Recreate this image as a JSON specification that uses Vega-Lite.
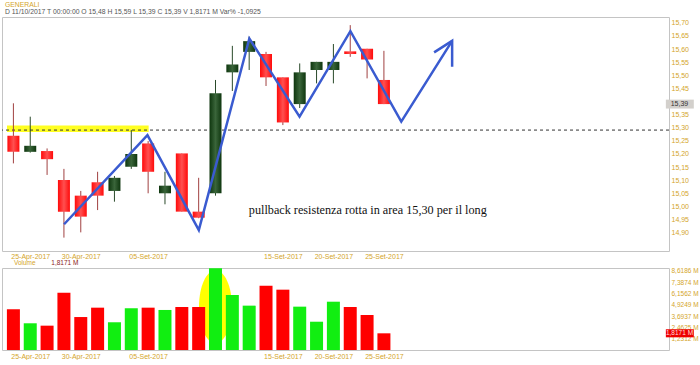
{
  "$schema": "https://vega.github.io/schema/vega-lite/v6.json",
  "background": "white",
  "padding": {"left": 1, "top": 1, "right": 0, "bottom": 0},
  "bounds": "flush",
  "spacing": 17,
  "datasets": {
    "candles": [
      {"i": 1, "o": 15.269, "h": 15.393, "l": 15.164, "c": 15.208, "v": 4.43},
      {"i": 2, "o": 15.208, "h": 15.342, "l": 15.205, "c": 15.231, "v": 2.91},
      {"i": 3, "o": 15.211, "h": 15.221, "l": 15.120, "c": 15.180, "v": 2.65},
      {"i": 4, "o": 15.101, "h": 15.143, "l": 14.881, "c": 14.980, "v": 6.24},
      {"i": 5, "o": 15.041, "h": 15.059, "l": 14.901, "c": 14.961, "v": 3.59},
      {"i": 6, "o": 15.092, "h": 15.132, "l": 14.986, "c": 15.041, "v": 4.61},
      {"i": 7, "o": 15.059, "h": 15.116, "l": 15.018, "c": 15.109, "v": 3.02},
      {"i": 8, "o": 15.151, "h": 15.291, "l": 15.143, "c": 15.200, "v": 4.54},
      {"i": 9, "o": 15.240, "h": 15.249, "l": 15.050, "c": 15.132, "v": 4.61},
      {"i": 10, "o": 15.050, "h": 15.132, "l": 15.008, "c": 15.079, "v": 4.36},
      {"i": 11, "o": 15.202, "h": 15.202, "l": 14.980, "c": 14.980, "v": 4.68},
      {"i": 12, "o": 14.980, "h": 15.109, "l": 14.955, "c": 14.957, "v": 4.68},
      {"i": 13, "o": 15.050, "h": 15.482, "l": 15.041, "c": 15.431, "v": 8.90},
      {"i": 14, "o": 15.511, "h": 15.612, "l": 15.440, "c": 15.541, "v": 5.99},
      {"i": 15, "o": 15.589, "h": 15.647, "l": 15.520, "c": 15.630, "v": 4.83},
      {"i": 16, "o": 15.581, "h": 15.589, "l": 15.459, "c": 15.492, "v": 7.00},
      {"i": 17, "o": 15.492, "h": 15.492, "l": 15.310, "c": 15.320, "v": 6.57},
      {"i": 18, "o": 15.390, "h": 15.545, "l": 15.375, "c": 15.511, "v": 4.72},
      {"i": 19, "o": 15.520, "h": 15.551, "l": 15.469, "c": 15.551, "v": 3.08},
      {"i": 20, "o": 15.520, "h": 15.619, "l": 15.469, "c": 15.551, "v": 5.26},
      {"i": 21, "o": 15.591, "h": 15.691, "l": 15.570, "c": 15.581, "v": 4.68},
      {"i": 22, "o": 15.601, "h": 15.601, "l": 15.488, "c": 15.560, "v": 3.81},
      {"i": 23, "o": 15.482, "h": 15.593, "l": 15.390, "c": 15.390, "v": 1.8171}
    ],
    "band": [{"x1": 0.62, "x2": 9.03, "y1": 15.2835, "y2": 15.308}],
    "resist": [{"p": 15.291}],
    "zig": [
      {"k": 1, "x": 4.01, "y": 14.932},
      {"k": 2, "x": 8.96, "y": 15.272},
      {"k": 3, "x": 12.01, "y": 14.910},
      {"k": 4, "x": 15.01, "y": 15.640},
      {"k": 5, "x": 17.99, "y": 15.342},
      {"k": 6, "x": 21.01, "y": 15.668},
      {"k": 7, "x": 24.03, "y": 15.323},
      {"k": 8, "x": 27.05, "y": 15.631}
    ],
    "arrow": [
      {"k": 1, "x": 25.98, "y": 15.587},
      {"k": 2, "x": 27.05, "y": 15.631},
      {"k": 3, "x": 27.05, "y": 15.532}
    ],
    "note": [{"x": 14.98, "y": 14.986, "t": "pullback resistenza rotta in area 15,30 per il long"}],
    "header": [
      {"x": 0.503, "y": 15.7696, "t": "GENERALI", "role": "name"},
      {"x": 0.503, "y": 15.742, "t": "D 11/10/2017  T 00:00:00  O 15,48  H 15,59  L 15,39  C 15,39  V 1,8171 M  Var% -1,0925", "role": "info"}
    ],
    "lastprice": [{"x1": 39.74, "x2": 41.4, "xm": 40.55, "p": 15.39, "p1": 15.373, "p2": 15.407, "t": "15,39"}],
    "halo": [{"i": 13, "v": 4.72}],
    "volhead": [
      {"x": 1.03, "v": 9.48, "t": "Volume", "role": "name"},
      {"x": 3.25, "v": 9.48, "t": "1,8171 M", "role": "value"}
    ],
    "lastvol": [{"x1": 39.74, "x2": 41.4, "xm": 40.55, "v": 1.8171, "v1": 1.38, "v2": 2.26, "t": "1,8171 M"}]
  },
  "vconcat": [
    {
      "width": 667,
      "height": 234,
      "layer": [
        {
          "data": {"name": "band"},
          "mark": {"type": "rect", "color": "#FFFF22"},
          "encoding": {
            "x": {"field": "x1", "type": "quantitative", "scale": {"domain": [0.62, 39.63], "nice": false, "zero": false},
              "axis": {"title": null, "values": [2, 5, 9, 17, 20, 23], "labelOverlap": false, "tickCount": 100, "labelPadding": 1,
                "labelExpr": "datum.value == 2 ? '25-Apr-2017' : datum.value == 5 ? '30-Apr-2017' : datum.value == 9 ? '05-Set-2017' : datum.value == 17 ? '15-Set-2017' : datum.value == 20 ? '20-Set-2017' : '25-Set-2017'"}},
            "x2": {"field": "x2"},
            "y": {"field": "y1", "type": "quantitative", "scale": {"domain": [14.830, 15.722], "nice": false, "zero": false},
              "axis": {"title": null, "orient": "right", "labelOverlap": false, "tickCount": 100,
                "values": [14.9, 14.95, 15.0, 15.05, 15.1, 15.15, 15.2, 15.25, 15.3, 15.35, 15.45, 15.5, 15.55, 15.6, 15.65, 15.7],
                "labelExpr": "replace(format(datum.value, '.2f'), '.', ',')"}},
            "y2": {"field": "y2"}
          }
        },
        {
          "data": {"name": "resist"},
          "mark": {"type": "rule", "strokeDash": [3, 3], "color": "#333333", "strokeWidth": 1},
          "encoding": {
            "y": {"field": "p", "type": "quantitative", "title": null, "scale": {"domain": [14.830, 15.722], "nice": false, "zero": false}}
          }
        },
        {
          "data": {"name": "candles"},
          "mark": {"type": "rule", "strokeWidth": 1},
          "encoding": {
            "x": {"field": "i", "type": "quantitative", "title": null, "scale": {"domain": [0.62, 39.63], "nice": false, "zero": false}},
            "y": {"field": "l", "type": "quantitative", "title": null, "scale": {"domain": [14.830, 15.722], "nice": false, "zero": false}},
            "y2": {"field": "h"},
            "color": {"condition": {"test": "datum.c >= datum.o", "value": "#2A4A2A"}, "value": "#A04040"}
          }
        },
        {
          "data": {"name": "candles"},
          "transform": [{"filter": "datum.c >= datum.o"}],
          "mark": {"type": "bar", "width": 12,
            "color": {"gradient": "linear", "x1": 0, "x2": 1, "y1": 0, "y2": 0,
              "stops": [{"offset": 0, "color": "#0E360E"}, {"offset": 0.5, "color": "#3A653A"}, {"offset": 1, "color": "#0E360E"}]}},
          "encoding": {
            "x": {"field": "i", "type": "quantitative", "title": null, "scale": {"domain": [0.62, 39.63], "nice": false, "zero": false}},
            "y": {"field": "o", "type": "quantitative", "title": null, "scale": {"domain": [14.830, 15.722], "nice": false, "zero": false}},
            "y2": {"field": "c"}
          }
        },
        {
          "data": {"name": "candles"},
          "transform": [{"filter": "datum.c < datum.o"}],
          "mark": {"type": "bar", "width": 12,
            "color": {"gradient": "linear", "x1": 0, "x2": 1, "y1": 0, "y2": 0,
              "stops": [{"offset": 0, "color": "#FF0A0A"}, {"offset": 0.5, "color": "#FF5050"}, {"offset": 1, "color": "#FF0A0A"}]}},
          "encoding": {
            "x": {"field": "i", "type": "quantitative", "title": null, "scale": {"domain": [0.62, 39.63], "nice": false, "zero": false}},
            "y": {"field": "o", "type": "quantitative", "title": null, "scale": {"domain": [14.830, 15.722], "nice": false, "zero": false}},
            "y2": {"field": "c"}
          }
        },
        {
          "data": {"name": "zig"},
          "mark": {"type": "line", "color": "#3A5BD0", "strokeWidth": 2.5},
          "encoding": {
            "x": {"field": "x", "type": "quantitative", "title": null, "scale": {"domain": [0.62, 39.63], "nice": false, "zero": false}},
            "y": {"field": "y", "type": "quantitative", "title": null, "scale": {"domain": [14.830, 15.722], "nice": false, "zero": false}},
            "order": {"field": "k", "type": "quantitative"}
          }
        },
        {
          "data": {"name": "arrow"},
          "mark": {"type": "line", "color": "#3A5BD0", "strokeWidth": 2.5},
          "encoding": {
            "x": {"field": "x", "type": "quantitative", "title": null, "scale": {"domain": [0.62, 39.63], "nice": false, "zero": false}},
            "y": {"field": "y", "type": "quantitative", "title": null, "scale": {"domain": [14.830, 15.722], "nice": false, "zero": false}},
            "order": {"field": "k", "type": "quantitative"}
          }
        },
        {
          "data": {"name": "note"},
          "mark": {"type": "text", "align": "left", "baseline": "middle", "font": "Liberation Serif", "fontSize": 12.2, "color": "#111111"},
          "encoding": {
            "x": {"field": "x", "type": "quantitative", "title": null, "scale": {"domain": [0.62, 39.63], "nice": false, "zero": false}},
            "y": {"field": "y", "type": "quantitative", "title": null, "scale": {"domain": [14.830, 15.722], "nice": false, "zero": false}},
            "text": {"field": "t"}
          }
        },
        {
          "data": {"name": "header"},
          "mark": {"type": "text", "align": "left", "baseline": "middle", "font": "Liberation Sans", "fontSize": 6.8},
          "encoding": {
            "x": {"field": "x", "type": "quantitative", "title": null, "scale": {"domain": [0.62, 39.63], "nice": false, "zero": false}},
            "y": {"field": "y", "type": "quantitative", "title": null, "scale": {"domain": [14.830, 15.722], "nice": false, "zero": false}},
            "text": {"field": "t"},
            "color": {"condition": {"test": "datum.role == 'name'", "value": "#D4A52A"}, "value": "#555555"}
          }
        },
        {
          "data": {"name": "lastprice"},
          "mark": {"type": "rect", "color": "#D3D0CC"},
          "encoding": {
            "x": {"field": "x1", "type": "quantitative", "title": null, "scale": {"domain": [0.62, 39.63], "nice": false, "zero": false}},
            "x2": {"field": "x2"},
            "y": {"field": "p1", "type": "quantitative", "title": null, "scale": {"domain": [14.830, 15.722], "nice": false, "zero": false}},
            "y2": {"field": "p2"}
          }
        },
        {
          "data": {"name": "lastprice"},
          "mark": {"type": "text", "align": "center", "baseline": "middle", "font": "Liberation Sans", "fontSize": 7, "color": "#333333"},
          "encoding": {
            "x": {"field": "xm", "type": "quantitative", "title": null, "scale": {"domain": [0.62, 39.63], "nice": false, "zero": false}},
            "y": {"field": "p", "type": "quantitative", "title": null, "scale": {"domain": [14.830, 15.722], "nice": false, "zero": false}},
            "text": {"field": "t"}
          }
        }
      ]
    },
    {
      "width": 667,
      "height": 82,
      "layer": [
        {
          "data": {"name": "halo"},
          "mark": {"type": "point", "filled": true, "opacity": 1, "color": "#FFFF00", "size": 5329, "strokeWidth": 0,
            "shape": "M 0 -1 C 0.2497 -1 0.452 -0.5523 0.452 0 C 0.452 0.5523 0.2497 1 0 1 C -0.2497 1 -0.452 0.5523 -0.452 0 C -0.452 -0.5523 -0.2497 -1 0 -1 Z"},
          "encoding": {
            "x": {"field": "i", "type": "quantitative", "scale": {"domain": [0.62, 39.63], "nice": false, "zero": false},
              "axis": {"title": null, "values": [2, 5, 9, 17, 20, 23], "labelOverlap": false, "tickCount": 100,
                "labelExpr": "datum.value == 2 ? '25-Apr-2017' : datum.value == 5 ? '30-Apr-2017' : datum.value == 9 ? '05-Set-2017' : datum.value == 17 ? '15-Set-2017' : datum.value == 20 ? '20-Set-2017' : '25-Set-2017'"}},
            "y": {"field": "v", "type": "quantitative", "scale": {"domain": [0, 8.93], "nice": false, "zero": true},
              "axis": {"title": null, "orient": "right", "labelOverlap": false, "labelFontSize": 6.5, "tickCount": 100,
                "values": [1.2312, 2.4625, 3.6937, 4.9249, 6.1562, 7.3874, 8.6186],
                "labelExpr": "replace(format(datum.value, '.4f'), '.', ',') + ' M'"}}
          }
        },
        {
          "data": {"name": "candles"},
          "mark": {"type": "bar", "width": 13},
          "encoding": {
            "x": {"field": "i", "type": "quantitative", "title": null, "scale": {"domain": [0.62, 39.63], "nice": false, "zero": false}},
            "y": {"field": "v", "type": "quantitative", "title": null, "scale": {"domain": [0, 8.93], "nice": false, "zero": true}},
            "color": {"condition": {"test": "datum.c >= datum.o", "value": "#11EE11"}, "value": "#FF0000"}
          }
        },
        {
          "data": {"name": "volhead"},
          "mark": {"type": "text", "align": "left", "baseline": "middle", "font": "Liberation Sans", "fontSize": 6.5},
          "encoding": {
            "x": {"field": "x", "type": "quantitative", "title": null, "scale": {"domain": [0.62, 39.63], "nice": false, "zero": false}},
            "y": {"field": "v", "type": "quantitative", "title": null, "scale": {"domain": [0, 8.93], "nice": false, "zero": true}},
            "text": {"field": "t"},
            "color": {"condition": {"test": "datum.role == 'name'", "value": "#D4A52A"}, "value": "#8B1A1A"}
          }
        },
        {
          "data": {"name": "lastvol"},
          "mark": {"type": "rect", "color": "#EE0000"},
          "encoding": {
            "x": {"field": "x1", "type": "quantitative", "title": null, "scale": {"domain": [0.62, 39.63], "nice": false, "zero": false}},
            "x2": {"field": "x2"},
            "y": {"field": "v1", "type": "quantitative", "title": null, "scale": {"domain": [0, 8.93], "nice": false, "zero": true}},
            "y2": {"field": "v2"}
          }
        },
        {
          "data": {"name": "lastvol"},
          "mark": {"type": "text", "align": "center", "baseline": "middle", "font": "Liberation Sans", "fontSize": 6.5, "color": "#FFDDDD"},
          "encoding": {
            "x": {"field": "xm", "type": "quantitative", "title": null, "scale": {"domain": [0.62, 39.63], "nice": false, "zero": false}},
            "y": {"field": "v", "type": "quantitative", "title": null, "scale": {"domain": [0, 8.93], "nice": false, "zero": true}},
            "text": {"field": "t"}
          }
        }
      ]
    }
  ],
  "config": {
    "view": {"stroke": "#C4C4C4", "strokeWidth": 1},
    "axis": {"labelColor": "#D4A52A", "labelFontSize": 7, "labelFont": "Liberation Sans", "ticks": false, "domain": false, "grid": false, "labelPadding": 2, "labelFlush": false, "labelOverlap": false}
  }
}
